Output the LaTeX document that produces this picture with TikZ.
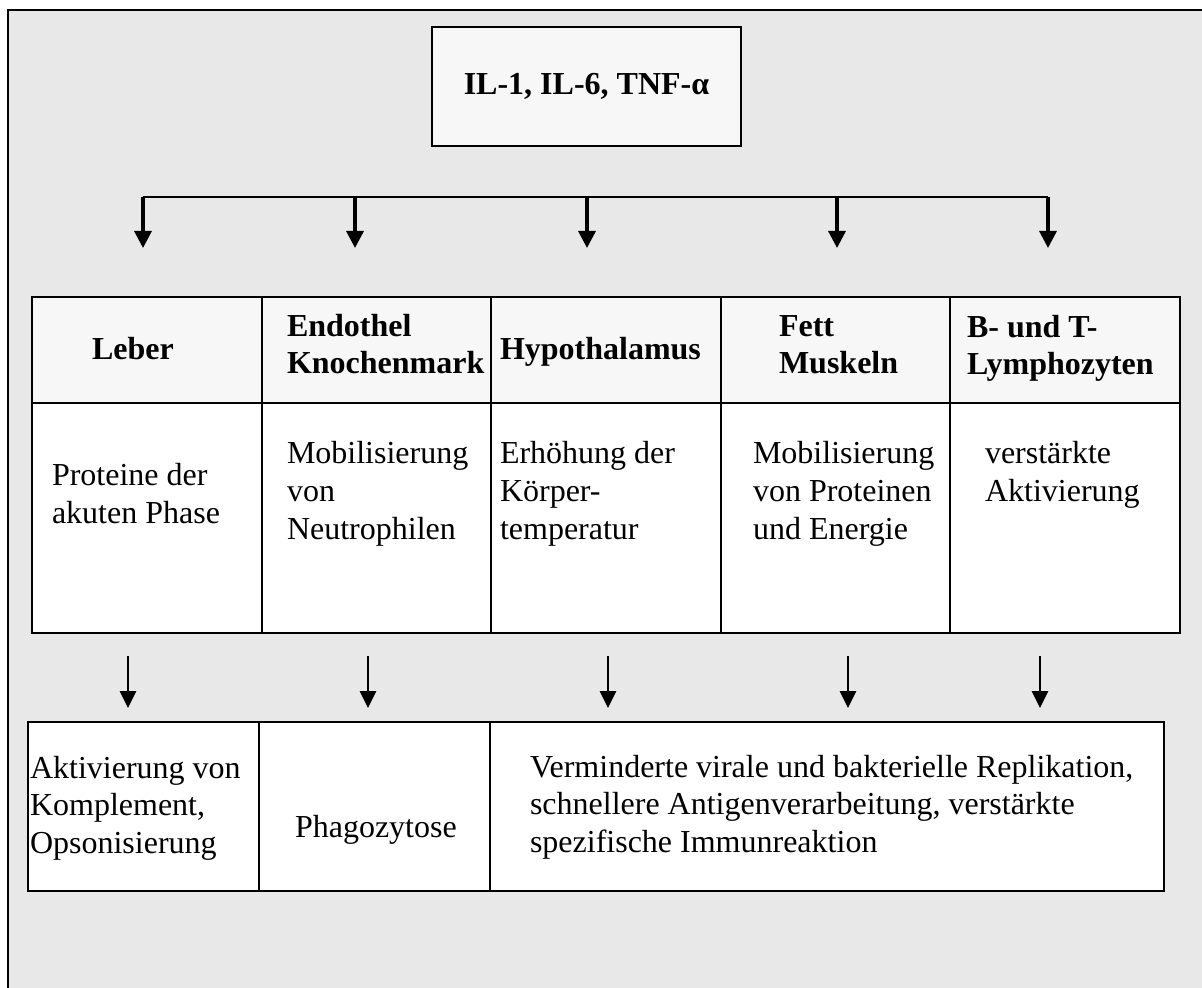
\documentclass[tikz,border=0pt]{standalone}
\usepackage{fontspec}
\setmainfont{Liberation Serif}
\usetikzlibrary{arrows.meta}
\definecolor{pagegray}{HTML}{E8E8E8}
\definecolor{headfill}{HTML}{F7F7F7}
\begin{document}
\begin{tikzpicture}[x=0.5pt,y=-0.5pt,
  every node/.style={inner sep=0pt, outer sep=0pt},
  % multi-line nodes: the base anchor sits on the baseline of the last line
  body/.style={font=\fontsize{16}{19}\selectfont, align=left, anchor=base west},
  lower/.style={font=\fontsize{16}{18.75}\selectfont, align=left, anchor=base west},
  head/.style={font=\fontsize{16}{18}\selectfont\bfseries, align=left, anchor=base west},
  grid/.style={line width=1pt},
  frame/.style={line width=1.2pt},
  bus/.style={line width=1pt},
  down/.style={-{Triangle[width=8.5pt,length=8.5pt]}, line width=1.6pt},
  downthin/.style={-{Triangle[width=8pt,length=8.5pt]}, line width=1.4pt}]

\useasboundingbox (0,0) rectangle (1202,988);

% page background and frame
\fill[pagegray] (8,10) rectangle (1202,988);
\draw[frame] (8,988) -- (8,10) -- (1202,10);

% cytokine box
\node[draw, line width=1pt, fill=headfill, minimum width=154.5pt, minimum height=59.5pt,
      font=\fontsize{16}{19}\selectfont\bfseries] (cyt) at (586.5,86.5) {IL-1, IL-6, TNF-α};

% distribution line with arrows to the target organs
\coordinate (b1) at (143,197);  \coordinate (t1) at (143,248);
\coordinate (b2) at (355,197);  \coordinate (t2) at (355,248);
\coordinate (b3) at (587,197);  \coordinate (t3) at (587,248);
\coordinate (b4) at (837,197);  \coordinate (t4) at (837,248);
\coordinate (b5) at (1048,197); \coordinate (t5) at (1048,248);
\draw[bus] (b1) -- (b5);
\foreach \i in {1,...,5} \draw[down] (b\i) -- (t\i);

% organ table
\fill[headfill] (32,297) rectangle (1180,403);
\fill[white] (32,403) rectangle (1180,633);
\draw[grid] (32,297) rectangle (1180,633);
\draw[grid] (32,403) -- (1180,403);
\foreach \x in {262,491,721,950} \draw[grid] (\x,297) -- (\x,633);

\node[head] (h1) at (92,360) {Leber};
\node[head] (h2) at (287,373) {Endothel\\Knochenmark};
\node[head] (h3) at (500,359) {Hypothalamus};
\node[head] (h4) at (779,373) {Fett\\Muskeln};
\node[head] (h5) at (967,374) {B- und T-\\Lymphozyten};

\node[body] (e1) at (52,523) {Proteine der\\akuten Phase};
\node[body] (e2) at (287,539) {Mobilisierung\\von\\Neutrophilen};
\node[body] (e3) at (500,539) {Erhöhung der\\Körper-\\temperatur};
\node[body] (e4) at (753,539) {Mobilisierung\\von Proteinen\\und Energie};
\node[body] (e5) at (985,501) {verstärkte\\Aktivierung};

% arrows to the outcomes
\coordinate (u1) at (128,656);  \coordinate (v1) at (128,708);
\coordinate (u2) at (368,656);  \coordinate (v2) at (368,708);
\coordinate (u3) at (608,656);  \coordinate (v3) at (608,708);
\coordinate (u4) at (848,656);  \coordinate (v4) at (848,708);
\coordinate (u5) at (1040,656); \coordinate (v5) at (1040,708);
\foreach \i in {1,...,5} \draw[downthin] (u\i) -- (v\i);

% outcome table
\fill[white] (28,722) rectangle (1164,891);
\draw[grid] (28,722) rectangle (1164,891);
\foreach \x in {259,490} \draw[grid] (\x,722) -- (\x,891);

\node[lower] (r1) at (30,853) {Aktivierung von\\Komplement,\\Opsonisierung};
\node[lower] (r2) at (295,837) {Phagozytose};
\node[lower] (r3) at (530,852) {Verminderte virale und bakterielle Replikation,\\schnellere Antigenverarbeitung, verstärkte\\spezifische Immunreaktion};

\end{tikzpicture}
\end{document}
